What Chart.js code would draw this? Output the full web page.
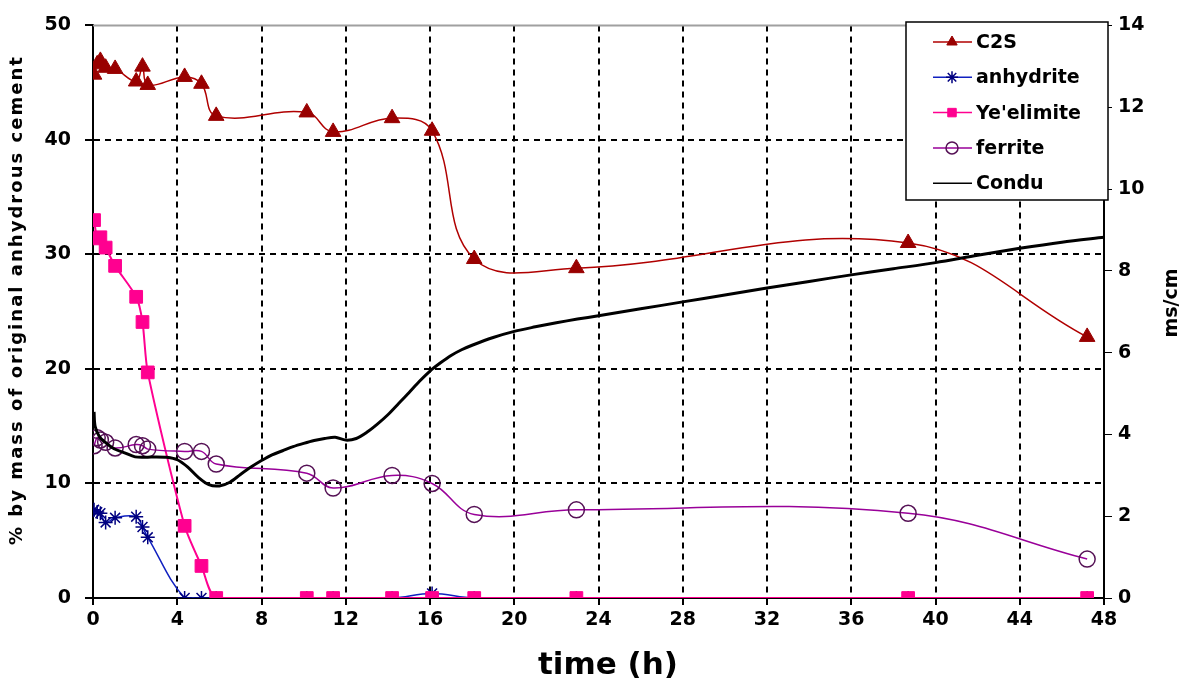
<!DOCTYPE html>
<html>
<head>
<meta charset="utf-8">
<script src="https://cdn.jsdelivr.net/npm/chart.js@4.4.1/dist/chart.umd.min.js"></script>
<style>
  body { margin: 0; background: #fff; }
</style>
</head>
<body>
<canvas id="myChart" width="1190" height="693"></canvas>
<script>
// sample times (h) of the phase measurements
const times = [0.05, 0.2, 0.35, 0.6, 1.05, 2.05, 2.35, 2.6, 4.35, 5.15, 5.85, 10.15, 11.4, 14.2, 16.1, 18.1, 22.95, 38.7, 47.2];
const c2s = [45.7, 46.6, 46.9, 46.3, 46.2, 45.1, 46.4, 44.8, 45.5, 44.9, 42.1, 42.4, 40.7, 41.9, 40.8, 29.6, 28.8, 31.0, 22.8];
const anhydrite = [7.7, 7.5, 7.4, 6.6, 7.0, 7.1, 6.2, 5.3, 0, 0, 0, 0, 0, 0, 0.4, 0, 0, 0, 0];
const yeelimite = [33.0, 31.4, 31.5, 30.6, 29.0, 26.3, 24.1, 19.7, 6.3, 2.8, 0, 0, 0, 0, 0, 0, 0, 0, 0];
const ferrite = [13.3, 14.0, 13.8, 13.6, 13.1, 13.4, 13.3, 13.0, 12.8, 12.8, 11.7, 10.9, 9.6, 10.7, 10.0, 7.3, 7.7, 7.4, 3.4];

// conductivity (ms/cm), right axis
const condTimes = [0.05, 0.1, 0.3, 0.6, 1.0, 1.5, 2.0, 2.5, 3.0, 3.5, 4.0, 4.5, 5.0, 5.5, 6.0, 6.5, 7.0, 7.5, 8.0, 8.5, 9.0, 9.5, 10.0, 10.5, 11.0, 11.5, 12.0, 12.5, 13.0, 13.5, 14.0, 14.5, 15.0, 15.5, 16.0, 16.5, 17.0, 17.5, 18.0, 19.0, 20.0, 21.0, 22.0, 23.0, 24.0, 26.0, 28.0, 30.0, 32.0, 34.0, 36.0, 38.0, 40.0, 42.0, 44.0, 46.0, 48.0];
const condu = [4.55, 4.2, 3.95, 3.8, 3.65, 3.55, 3.45, 3.44, 3.45, 3.44, 3.38, 3.2, 2.95, 2.77, 2.74, 2.83, 3.02, 3.2, 3.36, 3.5, 3.6, 3.7, 3.78, 3.85, 3.9, 3.93, 3.86, 3.9, 4.05, 4.25, 4.48, 4.75, 5.02, 5.3, 5.55, 5.75, 5.93, 6.07, 6.18, 6.37, 6.52, 6.63, 6.73, 6.82, 6.9, 7.07, 7.24, 7.41, 7.58, 7.74, 7.9, 8.05, 8.2, 8.38, 8.55, 8.7, 8.82];

const xTicks = [0, 4, 8, 12, 16, 20, 24, 28, 32, 36, 40, 44, 48];
const leftTicks = [0, 10, 20, 30, 40, 50];
const rightTicks = [0, 2, 4, 6, 8, 10, 12, 14];

function pts(xs, ys) {
  return xs.map((x, i) => ({ x: x, y: ys[i] }));
}
function setTicks(list) {
  return (scale) => { scale.ticks = list.map(v => ({ value: v })); };
}

const FONT = 'DejaVu Sans';

// draw a text centred at (x,y), optionally rotated and stretched to a width
function drawTitle(ctx, text, x, y, font, rot, width) {
  ctx.save();
  ctx.translate(x, y);
  ctx.rotate(rot);
  ctx.font = font;
  ctx.fillStyle = '#000';
  ctx.textAlign = 'center';
  ctx.textBaseline = 'middle';
  if (width) {
    ctx.letterSpacing = '0px';
    const w = ctx.measureText(text).width;
    ctx.letterSpacing = Math.max(0, (width - w) / text.length) + 'px';
  }
  ctx.fillText(text, 0, 0);
  ctx.restore();
}

//top frame line, axis titles and legend box drawn by hand
const frameAndLegend = {
  id: 'frameAndLegend',
  beforeDatasetsDraw(chart) {
    const ctx = chart.ctx;
    const a = chart.chartArea;
    ctx.save();
    ctx.strokeStyle = '#a0a0a0';
    ctx.lineWidth = 2;
    ctx.beginPath();
    ctx.moveTo(a.left, a.top);
    ctx.lineTo(a.right, a.top);
    ctx.stroke();
    ctx.restore();
  },
  afterDraw(chart) {
    const ctx = chart.ctx;
    drawTitle(ctx, 'time (h)', 608, 666, 'bold 31px ' + FONT, 0);
    drawTitle(ctx, '% by mass of original anhydrous cement', 17, 300, 'bold 18px ' + FONT, -Math.PI / 2, 490);
    drawTitle(ctx, 'ms/cm', 1172, 303, 'bold 19px ' + FONT, -Math.PI / 2);

    const bx = 906, by = 22, bw = 202, bh = 178;
    ctx.save();
    ctx.fillStyle = '#fff';
    ctx.fillRect(bx, by, bw, bh);
    ctx.strokeStyle = '#000';
    ctx.lineWidth = 1.5;
    ctx.strokeRect(bx, by, bw, bh);
    ctx.textBaseline = 'middle';
    ctx.textAlign = 'left';
    chart.data.datasets.forEach((ds, i) => {
      const y = 42 + i * 35.3;
      ctx.strokeStyle = ds.borderColor;
      ctx.lineWidth = 1.5;
      ctx.beginPath();
      ctx.moveTo(933, y);
      ctx.lineTo(972, y);
      ctx.stroke();
      if (ds.pointRadius > 0) {
        ctx.fillStyle = ds.pointBackgroundColor;
        ctx.strokeStyle = ds.pointBorderColor;
        ctx.lineWidth = ds.pointBorderWidth || 1;
        Chart.helpers.drawPoint(ctx, {
          pointStyle: ds.pointStyle,
          radius: 6,
          rotation: 0,
          borderWidth: ds.pointBorderWidth || 1
        }, 952, y);
      }
      ctx.font = 'bold 19px ' + FONT;
      ctx.fillStyle = '#000';
      ctx.fillText(ds.label, 976, y + 1);
    });
    ctx.restore();
  }
};

const ctx = document.getElementById('myChart');

new Chart(ctx, {
  type: 'line',
  data: {
    datasets: [
      {
        label: 'C2S',
        data: pts(times, c2s),
        yAxisID: 'y',
        borderColor: '#b00000',
        borderWidth: 1.5,
        pointStyle: 'triangle',
        pointRadius: 9,
        pointBackgroundColor: '#990000',
        pointBorderColor: '#990000',
        pointBorderWidth: 1,
        tension: 0.4,
        order: 4
      },
      {
        label: 'anhydrite',
        data: pts(times, anhydrite),
        yAxisID: 'y',
        borderColor: '#1020c0',
        borderWidth: 1.5,
        pointStyle: 'star',
        pointRadius: 7,
        pointBackgroundColor: 'transparent',
        pointBorderColor: '#000080',
        pointBorderWidth: 1.5,
        tension: 0.4,
        order: 3
      },
      {
        label: "Ye'elimite",
        data: pts(times, yeelimite),
        yAxisID: 'y',
        borderColor: '#ff0090',
        borderWidth: 2,
        pointStyle: 'rect',
        pointRadius: 9,
        pointBackgroundColor: '#ff0090',
        pointBorderColor: '#ff0090',
        pointBorderWidth: 1,
        tension: 0.25,
        order: 2
      },
      {
        label: 'ferrite',
        data: pts(times, ferrite),
        yAxisID: 'y',
        borderColor: '#990099',
        borderWidth: 1.5,
        pointStyle: 'circle',
        pointRadius: 8,
        pointBackgroundColor: 'transparent',
        pointBorderColor: '#551155',
        pointBorderWidth: 1.5,
        tension: 0.4,
        order: 1
      },
      {
        label: 'Condu',
        data: pts(condTimes, condu),
        yAxisID: 'y2',
        borderColor: '#000',
        borderWidth: 3,
        pointRadius: 0,
        tension: 0.3,
        order: 0
      }
    ]
  },
  options: {
    responsive: false,
    animation: false,
    layout: { padding: { top: 17, left: 0, right: 0, bottom: 0 } },
    plugins: {
      legend: { display: false },
      tooltip: { enabled: false }
    },
    scales: {
      x: {
        type: 'linear',
        min: 0,
        max: 48,
        afterBuildTicks: setTicks(xTicks),
        afterFit: (s) => { s.height = 95; },
        ticks: {
          color: '#000',
          padding: 4,
          maxRotation: 0,
          font: { family: FONT, size: 19, weight: 'bold' }
        },
        grid: {
          color: (c) => (c.tick && (c.tick.value === 0 || c.tick.value === 48)) ? 'transparent' : '#000',
          lineWidth: 2,
          tickColor: '#000',
          tickLength: 7
        },
        border: { color: '#000', width: 2, dash: [6, 5] }
      },
      y: {
        position: 'left',
        min: 0,
        max: 50,
        afterBuildTicks: setTicks(leftTicks),
        afterFit: (s) => { s.width = 93; },
        ticks: {
          color: '#000',
          padding: 14,
          font: { family: FONT, size: 19, weight: 'bold' }
        },
        grid: {
          color: (c) => (c.tick && (c.tick.value === 0 || c.tick.value === 50)) ? 'transparent' : '#000',
          lineWidth: 2,
          tickColor: '#000',
          tickLength: 8
        },
        border: { color: '#000', width: 2, dash: [6, 5] }
      },
      y2: {
        position: 'right',
        min: 0,
        max: 14,
        afterBuildTicks: setTicks(rightTicks),
        afterFit: (s) => { s.width = 86; },
        ticks: {
          color: '#000',
          padding: 6,
          font: { family: FONT, size: 19, weight: 'bold' }
        },
        grid: {
          drawOnChartArea: false,
          tickColor: '#000',
          tickLength: 8
        },
        border: { color: '#000', width: 2 }
      }
    }
  },
  plugins: [frameAndLegend]
});
</script>
</body>
</html>
